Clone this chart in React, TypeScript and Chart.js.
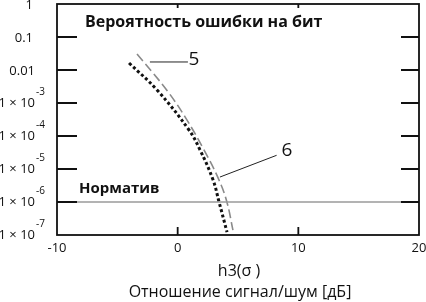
import React, { useEffect, useRef } from "react";
import { Chart, registerables } from "chart.js";

Chart.register(...registerables);

// ---- data ----
const xMin = -10;
const xMax = 20;
const yMin = 1e-7;
const yMax = 1;
const xTicks = [-10, 0, 10, 20];
const xTickLabels = ["-10", "0", "10", "20"];
const yTicks = [1, 0.1, 0.01, 1e-3, 1e-4, 1e-5, 1e-6, 1e-7];
const yTickMain = ["1", "0.1", "0.01", "1 × 10", "1 × 10", "1 × 10", "1 × 10", "1 × 10"];
const yTickExp = ["", "", "", "-3", "-4", "-5", "-6", "-7"];

// curve 6 (dotted)
const curve6X = [-4.03, -1.71, 0.94, 1.85, 2.93, 3.43, 4.09];
const curve6Y = [0.0163, 2.47e-3, 1.52e-4, 3.8e-5, 4.7e-6, 1e-6, 1.23e-7];
// curve 5 (dashed)
const curve5X = [-3.37, -2.04, -0.72, 0.61, 2.18, 3.42, 4.08, 4.58];
const curve5Y = [0.0305, 8.1e-3, 2.0e-3, 3.8e-4, 3.8e-5, 4.7e-6, 1e-6, 1.4e-7];
// norm line
const normValue = 1e-6;
// labels for the curves: leader line start, end, and label position
const label5 = { text: "5", from: [-2.3, 0.0175], to: [0.85, 0.0175], at: [0.9, 0.021] };
const label6 = { text: "6", from: [3.5, 5.7e-6], to: [8.2, 2.6e-5], at: [8.6, 3.5e-5] };
const titleText = "Вероятность ошибки на бит";
const normText = "Норматив";
const xTitle1 = "h3(σ )";
const xTitle2 = "Отношение сигнал/шум [дБ]";

const FONT = "'Open Sans', 'Noto Sans', sans-serif";

const pts = (xs: number[], ys: number[]) => xs.map((x, i) => ({ x, y: ys[i] }));

const decorPlugin = {
  id: "decor",
  afterDraw(chart: any) {
    const { ctx, chartArea: a, scales } = chart;
    const xs = scales.x;
    const ys = scales.y;
    ctx.save();
    // frame
    ctx.strokeStyle = "#111";
    ctx.lineWidth = 1.8;
    ctx.strokeRect(a.left, a.top, a.right - a.left, a.bottom - a.top);
    // y ticks (inward, both sides)
    yTicks.forEach((v) => {
      if (v === yMin || v === yMax) return;
      const y = ys.getPixelForValue(v);
      ctx.beginPath();
      ctx.moveTo(a.left, y);
      ctx.lineTo(a.left + 20, y);
      ctx.moveTo(a.right, y);
      ctx.lineTo(a.right - 18, y);
      ctx.stroke();
    });
    // x ticks (inward)
    xTicks.forEach((v) => {
      if (v === xMin || v === xMax) return;
      const x = xs.getPixelForValue(v);
      ctx.beginPath();
      ctx.moveTo(x, a.bottom);
      ctx.lineTo(x, a.bottom - 8);
      ctx.moveTo(x, a.top);
      ctx.lineTo(x, a.top + 4);
      ctx.stroke();
    });
    // y tick labels
    ctx.fillStyle = "#111";
    ctx.textBaseline = "middle";
    yTicks.forEach((v, i) => {
      const y = ys.getPixelForValue(v);
      const main = yTickMain[i];
      const exp = yTickExp[i];
      ctx.font = `13px ${FONT}`;
      if (!exp) {
        ctx.textAlign = "right";
        const right = main === "0.01" ? 35 : 33;
        ctx.fillText(main, right, y + 1);
      } else {
        ctx.textAlign = "right";
        ctx.fillText(main, 35, y);
        ctx.font = `10px ${FONT}`;
        ctx.textAlign = "left";
        ctx.fillText(exp, 36, y - 11);
      }
    });
    // x tick labels
    ctx.font = `13px ${FONT}`;
    ctx.textAlign = "center";
    xTicks.forEach((v, i) => {
      const x = xs.getPixelForValue(v);
      ctx.fillText(xTickLabels[i], x, a.bottom + 13);
    });
    // axis titles
    ctx.font = `16px ${FONT}`;
    ctx.fillText(xTitle1, 239, 271);
    ctx.fillText(xTitle2, 240, 292);
    // inner bold texts
    ctx.textAlign = "left";
    ctx.textBaseline = "alphabetic";
    ctx.font = `bold 16px ${FONT}`;
    ctx.fillText(titleText, a.left + 28, a.top + 23);
    ctx.font = `bold 15px ${FONT}`;
    ctx.fillText(normText, a.left + 22, a.top + 189);
    // curve labels
    ctx.font = `19px ${FONT}`;
    ctx.textBaseline = "middle";
    [label5, label6].forEach((l) => {
      ctx.fillText(l.text, xs.getPixelForValue(l.at[0]), ys.getPixelForValue(l.at[1]));
    });
    ctx.restore();
  },
};

export default function App() {
  const ref = useRef<HTMLCanvasElement | null>(null);
  useEffect(() => {
    if (!ref.current) return;
    const chart = new Chart(ref.current, {
      type: "line",
      data: {
        datasets: [
          {
            data: [{ x: xMin, y: normValue }, { x: xMax, y: normValue }],
            borderColor: "#9a9a9a",
            borderWidth: 1.5,
            pointRadius: 0,
          },
          {
            data: pts(curve6X, curve6Y),
            borderColor: "#111",
            borderWidth: 3,
            borderDash: [3, 2.5],
            pointRadius: 0,
            tension: 0.4,
          },
          {
            data: pts(curve5X, curve5Y),
            borderColor: "#8a8a8a",
            borderWidth: 1.6,
            borderDash: [9, 4],
            pointRadius: 0,
            tension: 0.4,
          },
          {
            data: [
              { x: label5.from[0], y: label5.from[1] },
              { x: label5.to[0], y: label5.to[1] },
            ],
            borderColor: "#222",
            borderWidth: 1,
            pointRadius: 0,
          },
          {
            data: [
              { x: label6.from[0], y: label6.from[1] },
              { x: label6.to[0], y: label6.to[1] },
            ],
            borderColor: "#222",
            borderWidth: 1,
            pointRadius: 0,
          },
        ],
      },
      options: {
        responsive: false,
        animation: false,
        layout: { padding: { left: 57, right: 7, top: 4, bottom: 67 } },
        plugins: { legend: { display: false }, tooltip: { enabled: false } },
        scales: {
          x: { type: "linear", min: xMin, max: xMax, display: false },
          y: { type: "logarithmic", min: yMin, max: yMax, display: false },
        },
      },
      plugins: [decorPlugin],
    } as any);
    return () => chart.destroy();
  }, []);
  return (
    <div style={{ position: "absolute", left: 0, top: 0, width: 426, height: 302, background: "#fff" }}>
      <canvas ref={ref} width={426} height={302} style={{ display: "block" }} />
    </div>
  );
}
